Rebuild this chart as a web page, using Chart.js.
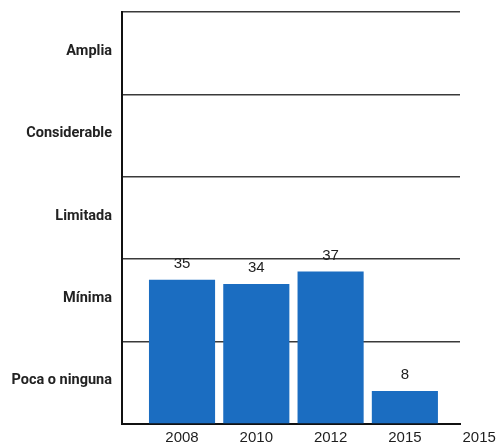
<!DOCTYPE html>
<html>
<head>
<meta charset="utf-8">
<script src="https://cdn.jsdelivr.net/npm/chart.js@4/dist/chart.umd.min.js"></script>
<style>
  html, body { margin: 0; padding: 0; background: #ffffff; }
  #wrap { width: 500px; height: 446px; position: relative; }
</style>
</head>
<body>
<div id="wrap"><canvas id="c"></canvas></div>
<script>
// ---- data ----
const years = ['2008', '2010', '2012', '2015', '2015'];
const values = [35, 34, 37, 8];
const levelLabels = ['Poca o ninguna', 'Mínima', 'Limitada', 'Considerable', 'Amplia'];
const levelTicks = [0, 10, 20, 30, 40, 50, 60, 70, 80, 90, 100];

const points = values.map((v, i) => ({ x: i, y: v }));

const valueLabels = {
  id: 'valueLabels',
  afterDatasetsDraw(chart) {
    const ctx = chart.ctx;
    const meta = chart.getDatasetMeta(0);
    ctx.save();
    ctx.font = '15px "Liberation Sans", Arial, sans-serif';
    ctx.fillStyle = '#1e1e1e';
    ctx.textAlign = 'center';
    ctx.textBaseline = 'middle';
    meta.data.forEach((bar, i) => {
      ctx.fillText(String(values[i]), bar.x, bar.y - 16);
    });
    ctx.restore();
  }
};

new Chart(document.getElementById('c'), {
  type: 'bar',
  data: {
    datasets: [{
      data: points,
      backgroundColor: '#1b6dc1',
      borderWidth: 0,
      barPercentage: 1,
      categoryPercentage: 0.89
    }]
  },
  options: {
    responsive: true,
    maintainAspectRatio: false,
    animation: false,
    layout: { padding: { left: 0, right: 40, top: 12, bottom: 0 } },
    plugins: { legend: { display: false }, tooltip: { enabled: false } },
    scales: {
      x: {
        type: 'linear',
        offset: false,
        min: -0.808,
        max: 3.742,
        afterBuildTicks(scale) {
          scale.ticks = years.map((y, i) => ({ value: i }));
        },
        afterFit(scale) {
          scale.height = 22;
          scale.paddingLeft = 0; scale.paddingRight = 0;
        },
        grid: { display: false, drawTicks: false, offset: false },
        border: { display: true, color: '#111', width: 2 },
        ticks: {
          autoSkip: false,
          maxRotation: 0,
          padding: 5,
          color: '#1e1e1e',
          font: { family: '"Liberation Sans", Arial, sans-serif', size: 15 },
          callback: (v) => years[v] !== undefined ? years[v] : ''
        }
      },
      y: {
        min: 0,
        max: 100,
        afterBuildTicks(scale) {
          scale.ticks = levelTicks.map(v => ({ value: v }));
        },
        afterFit(scale) {
          scale.width = 122;
          scale.paddingTop = 0; scale.paddingBottom = 0;
        },
        grid: {
          drawTicks: false,
          lineWidth: 1.5,
          color: (ctx) => (ctx.tick && ctx.tick.value % 20 === 0) ? '#3a3a3a' : 'rgba(0,0,0,0)'
        },
        border: { display: true, color: '#111', width: 2 },
        ticks: {
          padding: 10,
          labelOffset: -2,
          color: '#222',
          font: { family: 'Roboto, "Liberation Sans", Arial, sans-serif', size: 14.5, weight: 'bold' },
          callback: (v) => (v % 20 === 10) ? levelLabels[(v - 10) / 20] : ''
        }
      }
    }
  },
  plugins: [valueLabels]
});
</script>
</body>
</html>
